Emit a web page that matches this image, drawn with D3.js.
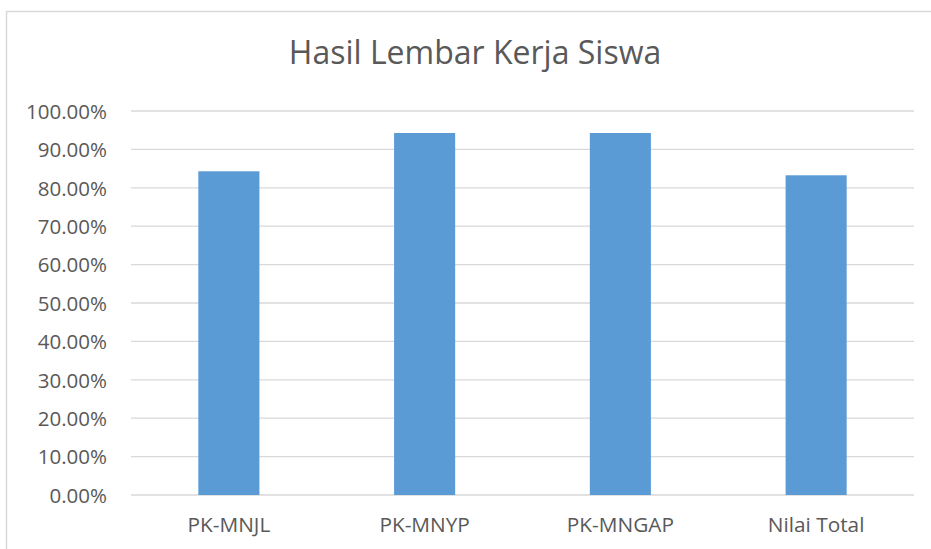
<!DOCTYPE html>
<html>
<head>
<meta charset="utf-8">
<script src="https://cdn.jsdelivr.net/npm/d3@7"></script>
<style>
  html, body { margin: 0; padding: 0; background: #fff; }
  svg { display: block; }
  text { font-family: "Open Sans", sans-serif; fill: #595959; }
</style>
</head>
<body>
<svg id="chart" width="931" height="549"></svg>
<script>
const title = "Hasil Lembar Kerja Siswa";
const categories = ["PK-MNJL", "PK-MNYP", "PK-MNGAP", "Nilai Total"];
const values = [0.8430, 0.9427, 0.9427, 0.8326];
const yTicks = [0, 0.1, 0.2, 0.3, 0.4, 0.5, 0.6, 0.7, 0.8, 0.9, 1.0];

const svg = d3.select("#chart");
const plot = { left: 131, right: 914, top: 111, bottom: 495 };

// chart border
svg.append("rect")
  .attr("x", 6.5).attr("y", 11.5)
  .attr("width", 940).attr("height", 560)
  .attr("fill", "#fff").attr("stroke", "#d9d9d9").attr("stroke-width", 1.5);

const x = d3.scaleBand().domain(categories).range([plot.left, plot.right]).padding(0);
const y = d3.scaleLinear().domain([0, 1]).range([plot.bottom, plot.top]);

// gridlines
svg.append("g").selectAll("line").data(yTicks).join("line")
  .attr("x1", plot.left).attr("x2", plot.right)
  .attr("y1", d => y(d)).attr("y2", d => y(d))
  .attr("stroke", "#d9d9d9").attr("stroke-width", 1.3);

// y axis labels
const yAxis = d3.axisLeft(y).tickValues(yTicks).tickSize(0).tickPadding(0)
  .tickFormat(d => (d * 100).toFixed(2) + "%");
const gy = svg.append("g").attr("transform", `translate(107,0)`).call(yAxis);
gy.select(".domain").remove();
gy.selectAll("text").style("font-size", "20.5px").style("font-family", "'Open Sans', sans-serif").attr("fill", "#595959").attr("dy", "0.36em");

// bars
const barFrac = 0.312;
svg.append("g").selectAll("rect").data(categories).join("rect")
  .attr("x", (d) => x(d) + x.bandwidth() * (1 - barFrac) / 2)
  .attr("width", x.bandwidth() * barFrac)
  .attr("y", (d, i) => y(values[i]))
  .attr("height", (d, i) => y(0) - y(values[i]))
  .attr("fill", "#5b9bd5");

// x axis labels
const xAxis = d3.axisBottom(x).tickSize(0).tickPadding(0);
const gx = svg.append("g").attr("transform", `translate(0,${plot.bottom})`).call(xAxis);
gx.select(".domain").remove();
gx.selectAll("text").style("font-size", "20.8px").style("font-family", "'Open Sans', sans-serif").attr("fill", "#595959").attr("dy", "36.7px").attr("y", 0);

// title
svg.append("text")
  .attr("x", 475).attr("y", 63.5)
  .attr("text-anchor", "middle")
  .style("font-size", "32px")
  .text(title);
</script>
</body>
</html>
